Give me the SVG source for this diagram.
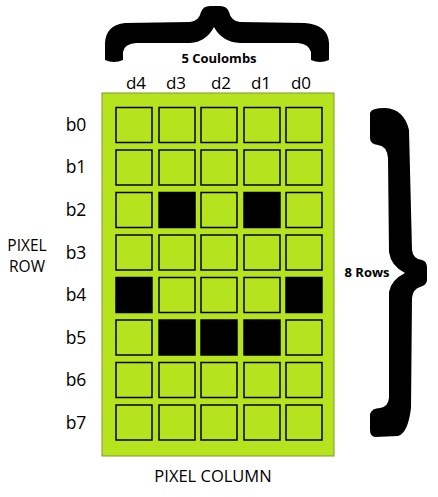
<svg xmlns="http://www.w3.org/2000/svg" width="438" height="497" viewBox="0 0 438 497">
<style>
.lbl{font-family:"Open Sans","Noto Sans",sans-serif;font-size:17px;fill:#000;text-anchor:middle}
.row{font-size:17.5px}
.bold{font-family:"Open Sans","Noto Sans",sans-serif;font-weight:bold;font-size:13px;fill:#000;text-anchor:middle}
.cell{fill:#b5e41f;stroke:#000;stroke-width:1.5}
.on{fill:#000;stroke:#000;stroke-width:1.5}
</style>
<rect width="438" height="497" fill="#fff"/>
<g id="top-brace">
<path fill="#000" d="M105,60 L105,43 Q106,25 125,23 L190,22 Q199,21 201,12 Q203,6 210,6 L220,6 Q227,6 229,12 Q231,21 240,22 L305,23 Q328,25 329,43 L329,60 Q320,64 311,60 L311,52 Q309,44 298,43 L240,43 Q222,42 214,27 Q206,42 190,43 L136,43 Q124,44 123,52 L123,60 Q114,64 105,60 Z"/>
<text class="bold" x="219" y="63">5 Coulombs</text>
</g>
<g id="right-brace">
<path fill="#000" d="M370,113 Q371,108 385,108 Q404,109 409,130 L412,250 Q413,259 422,260 Q427,261 427,268 L427,280 Q427,285 420,287 Q413,289 412,298 L411,408 Q408,433 398,436 L375,437 Q370,436 370,430 L370,414 Q372,408 380,408 Q388,407 389,398 L389,292 Q391,280 405,273 Q391,266 389,252 L388,158 Q387,146 378,145 Q370,144 370,138 Z"/>
<text class="bold" x="367" y="277">8 Rows</text>
</g>
<g id="grid">
<rect x="102" y="93" width="232" height="363" fill="#b5e41f" stroke="#7d9a2c" stroke-width="1"/>
<g id="row-b0"><rect class="cell" x="116" y="107.5" width="36" height="35"/><rect class="cell" x="159" y="107.5" width="36" height="35"/><rect class="cell" x="201" y="107.5" width="36" height="35"/><rect class="cell" x="244" y="107.5" width="36" height="35"/><rect class="cell" x="286" y="107.5" width="36" height="35"/></g>
<g id="row-b1"><rect class="cell" x="116" y="150" width="36" height="35"/><rect class="cell" x="159" y="150" width="36" height="35"/><rect class="cell" x="201" y="150" width="36" height="35"/><rect class="cell" x="244" y="150" width="36" height="35"/><rect class="cell" x="286" y="150" width="36" height="35"/></g>
<g id="row-b2"><rect class="cell" x="116" y="192.5" width="36" height="35"/><rect class="on" x="159" y="192.5" width="36" height="35"/><rect class="cell" x="201" y="192.5" width="36" height="35"/><rect class="on" x="244" y="192.5" width="36" height="35"/><rect class="cell" x="286" y="192.5" width="36" height="35"/></g>
<g id="row-b3"><rect class="cell" x="116" y="235" width="36" height="35"/><rect class="cell" x="159" y="235" width="36" height="35"/><rect class="cell" x="201" y="235" width="36" height="35"/><rect class="cell" x="244" y="235" width="36" height="35"/><rect class="cell" x="286" y="235" width="36" height="35"/></g>
<g id="row-b4"><rect class="on" x="116" y="277.5" width="36" height="35"/><rect class="cell" x="159" y="277.5" width="36" height="35"/><rect class="cell" x="201" y="277.5" width="36" height="35"/><rect class="cell" x="244" y="277.5" width="36" height="35"/><rect class="on" x="286" y="277.5" width="36" height="35"/></g>
<g id="row-b5"><rect class="cell" x="116" y="320" width="36" height="35"/><rect class="on" x="159" y="320" width="36" height="35"/><rect class="on" x="201" y="320" width="36" height="35"/><rect class="on" x="244" y="320" width="36" height="35"/><rect class="cell" x="286" y="320" width="36" height="35"/></g>
<g id="row-b6"><rect class="cell" x="116" y="362.5" width="36" height="35"/><rect class="cell" x="159" y="362.5" width="36" height="35"/><rect class="cell" x="201" y="362.5" width="36" height="35"/><rect class="cell" x="244" y="362.5" width="36" height="35"/><rect class="cell" x="286" y="362.5" width="36" height="35"/></g>
<g id="row-b7"><rect class="cell" x="116" y="405" width="36" height="35"/><rect class="cell" x="159" y="405" width="36" height="35"/><rect class="cell" x="201" y="405" width="36" height="35"/><rect class="cell" x="244" y="405" width="36" height="35"/><rect class="cell" x="286" y="405" width="36" height="35"/></g>
</g>
<g id="col-labels">
<text class="lbl" x="136" y="89">d4</text>
<text class="lbl" x="176" y="89">d3</text>
<text class="lbl" x="221" y="89">d2</text>
<text class="lbl" x="261" y="89">d1</text>
<text class="lbl" x="301" y="89">d0</text>
</g>
<g id="row-labels">
<text class="lbl row" x="76" y="131">b0</text>
<text class="lbl row" x="76" y="173">b1</text>
<text class="lbl row" x="76" y="216">b2</text>
<text class="lbl row" x="76" y="259">b3</text>
<text class="lbl row" x="76" y="301">b4</text>
<text class="lbl row" x="76" y="344">b5</text>
<text class="lbl row" x="76" y="386">b6</text>
<text class="lbl row" x="76" y="429">b7</text>
</g>
<g id="axis-labels">
<text class="lbl" x="27" y="251" style="font-size:15.5px">PIXEL</text>
<text class="lbl" x="27" y="272" style="font-size:15.5px">ROW</text>
<text class="lbl" x="213" y="482" style="font-size:16.5px">PIXEL COLUMN</text>
</g>
</svg>
